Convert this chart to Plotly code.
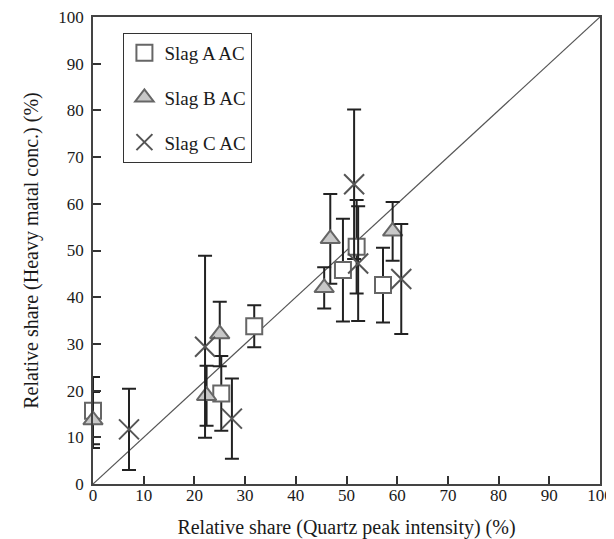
import plotly.graph_objects as go

# Slag A AC (squares)
a_x = [0, 25.3, 31.8, 49.3, 52.0, 57.2]
a_y = [15.7, 19.4, 33.8, 45.8, 50.8, 42.6]
a_err = [7.2, 8.0, 4.5, 11.0, 10.0, 8.0]

# Slag B AC (triangles)
b_x = [0, 22.4, 25.0, 45.6, 46.8, 59.1]
b_y = [13.7, 18.9, 32.1, 42.0, 52.5, 54.1]
b_err = [6.0, 6.4, 6.9, 4.4, 9.6, 6.3]

# Slag C AC (crosses)
c_x = [7.1, 22.1, 27.4, 51.5, 52.3, 60.8]
c_y = [11.7, 29.4, 14.0, 64.2, 47.2, 43.9]
c_err = [8.7, 19.5, 8.6, 16.0, 12.3, 11.8]

diag = [0, 100]
ticks = [0, 10, 20, 30, 40, 50, 60, 70, 80, 90, 100]

FONT = "Liberation Serif, Times New Roman, serif"
ERR = dict(type="data", visible=True, color="#222222", thickness=2, width=7)

fig = go.Figure()
fig.add_trace(go.Scatter(x=diag, y=diag, mode="lines",
                         line=dict(color="#555555", width=1.2),
                         showlegend=False, hoverinfo="skip"))
fig.add_trace(go.Scatter(
    x=a_x, y=a_y, mode="markers", name="Slag A AC", legendgroup="a",
    error_y=dict(array=a_err, **ERR),
    marker=dict(symbol="square", size=16, color="white",
                line=dict(color="#666666", width=2)),
    cliponaxis=False))
fig.add_trace(go.Scatter(
    x=b_x, y=b_y, mode="markers", name="Slag B AC", legendgroup="b",
    error_y=dict(array=b_err, **ERR),
    marker=dict(symbol="triangle-up", size=17, color="#c8c8c8",
                line=dict(color="#666666", width=2)),
    cliponaxis=False))
fig.add_trace(go.Scatter(
    x=c_x, y=c_y, mode="markers", name="Slag C AC", legendgroup="c",
    error_y=dict(array=c_err, **ERR),
    marker=dict(symbol="x-thin", size=20, color="#555555",
                line=dict(color="#555555", width=2)),
    cliponaxis=False))

axis_common = dict(
    range=[0, 100], tickvals=ticks, ticks="inside", ticklen=8, tickwidth=1.5,
    tickcolor="#333333", showline=True, linecolor="#444444", linewidth=1.5,
    mirror=True, showgrid=False, zeroline=False, automargin=False,
    ticklabeloverflow="allow",
    tickfont=dict(family=FONT, size=17, color="#1a1a1a"),
)

fig.update_layout(
    width=606, height=531,
    margin=dict(l=85, r=14, t=9, b=55, autoexpand=False),
    paper_bgcolor="white", plot_bgcolor="white",
    font=dict(family=FONT, color="#1a1a1a"),
    xaxis=dict(title=dict(text="Relative share (Quartz peak intensity) (%)",
                          font=dict(family=FONT, size=20), standoff=21),
               ticklabelstandoff=-5,
               **axis_common),
    yaxis=dict(title=dict(text="Relative share (Heavy matal conc.) (%)",
                          font=dict(family=FONT, size=20), standoff=14),
               ticklabelstandoff=4,
               **axis_common),
    legend=dict(x=0.06, y=0.966, xanchor="left", yanchor="top",
                bordercolor="#333333", borderwidth=1, bgcolor="white",
                font=dict(family=FONT, size=19, color="#1a1a1a"),
                traceorder="grouped", tracegroupgap=17),
)

fig.write_html("out.html")
